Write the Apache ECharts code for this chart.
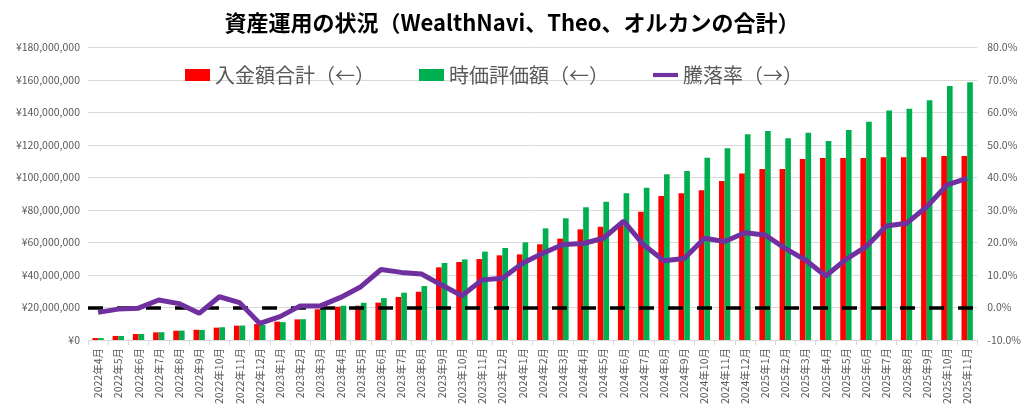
<!DOCTYPE html>
<html><head><meta charset="utf-8">
<script src="https://cdn.jsdelivr.net/npm/echarts@6/dist/echarts.min.js"></script>
<style>html,body{margin:0;padding:0;background:#fff}#c{width:1024px;height:418px}</style>
</head><body><div id="c"></div>
<script>
const categories = ['2022年4月','2022年5月','2022年6月','2022年7月','2022年8月','2022年9月','2022年10月','2022年11月','2022年12月',
'2023年1月','2023年2月','2023年3月','2023年4月','2023年5月','2023年6月','2023年7月','2023年8月','2023年9月','2023年10月','2023年11月','2023年12月',
'2024年1月','2024年2月','2024年3月','2024年4月','2024年5月','2024年6月','2024年7月','2024年8月','2024年9月','2024年10月','2024年11月','2024年12月',
'2025年1月','2025年2月','2025年3月','2025年4月','2025年5月','2025年6月','2025年7月','2025年8月','2025年9月','2025年10月','2025年11月'];
const deposit = [1200000,2500000,3700000,4700000,5700000,6300000,7600000,8800000,9800000,11300000,12700000,18900000,20500000,21100000,23000000,26500000,29700000,44700000,48000000,49800000,52100000,52700000,58900000,62400000,68100000,69700000,71500000,79000000,88600000,90300000,92100000,97800000,102400000,105200000,105200000,111400000,112000000,112000000,112000000,112400000,112400000,112400000,113200000,113200000];
const valuation = [1180000,2490000,3700000,4800000,5800000,6200000,7850000,8900000,9300000,11000000,12800000,19000000,21100000,22900000,25800000,29100000,33200000,47400000,49600000,54400000,56600000,60100000,68700000,74900000,81700000,85100000,90300000,93700000,102000000,104000000,112200000,118000000,126600000,128600000,124100000,127600000,122500000,129200000,134300000,141300000,142300000,147500000,156300000,158600000];
const rate = [-1.5,-0.5,-0.2,2.3,1.2,-1.8,3.3,1.5,-4.9,-2.8,0.5,0.5,3.1,6.4,11.7,10.8,10.3,6.9,3.6,8.5,9.0,13.6,16.7,19.4,19.7,21.3,26.6,19.2,14.4,15.1,21.3,20.3,23.0,22.3,18.2,14.6,9.7,14.8,18.7,25.1,25.9,31.0,37.7,39.7];
const seriesNames = ['入金額合計（←）','時価評価額（←）','騰落率（→）'];
const titleText = '資産運用の状況（WealthNavi、Theo、オルカンの合計）';

const font = '"Noto Sans CJK JP","Noto Sans",sans-serif';
const chart = echarts.init(document.getElementById('c'));
chart.setOption({
  animation: false,
  textStyle: {fontFamily: font},
  title: {text: titleText, left: 'center', top: 7,
    textStyle: {fontFamily: font, fontSize: 22, fontWeight: 'bold', color: '#000'}},
  legend: {
    left: 180, top: 60, itemWidth: 25, itemHeight: 12, itemGap: 44,
    textStyle: {fontFamily: font, fontSize: 20, color: '#595959'},
    data: [
      {name: seriesNames[0], icon: 'rect'},
      {name: seriesNames[1], icon: 'rect'},
      {name: seriesNames[2], icon: 'path://M0,0 L30,0 L30,5 L0,5 Z'}
    ]
  },
  grid: {left: 88, right: 46, top: 47.5, bottom: 78},
  xAxis: {
    type: 'category', data: categories,
    axisLine: {lineStyle: {color: '#D9D9D9'}},
    axisTick: {show: true, lineStyle: {color: '#D9D9D9'}},
    axisLabel: {rotate: 90, interval: 0, fontSize: 10.5, color: '#595959', margin: 8, fontFamily: font}
  },
  yAxis: [
    {type: 'value', min: 0, max: 180000000, interval: 20000000,
      axisLine: {show: false}, axisTick: {show: false},
      splitLine: {lineStyle: {color: '#D9D9D9'}},
      axisLabel: {fontSize: 10.5, color: '#595959', margin: 8, fontFamily: font,
        formatter: v => '¥' + v.toLocaleString('en-US')}},
    {type: 'value', min: -10, max: 80, interval: 10,
      axisLine: {show: false}, axisTick: {show: false}, splitLine: {show: false},
      axisLabel: {fontSize: 10.5, color: '#595959', margin: 10, fontFamily: font,
        formatter: v => v.toFixed(1) + '%'}}
  ],
  series: [
    {name: seriesNames[0], type: 'bar', data: deposit, barWidth: '28%', barGap: '0%',
      itemStyle: {color: '#FF0000'}},
    {name: seriesNames[1], type: 'bar', data: valuation, barWidth: '28%', barGap: '0%',
      itemStyle: {color: '#00B050'}},
    {name: seriesNames[2], type: 'line', yAxisIndex: 1, data: rate, symbol: 'none', z: 5,
      lineStyle: {color: '#7030A0', width: 5}, itemStyle: {color: '#7030A0'},
      markLine: {silent: true, symbol: 'none', label: {show: false},
        lineStyle: {color: '#000', width: 3.5, type: [15, 14]},
        data: [{yAxis: 0}]}}
  ]
});
</script></body></html>
